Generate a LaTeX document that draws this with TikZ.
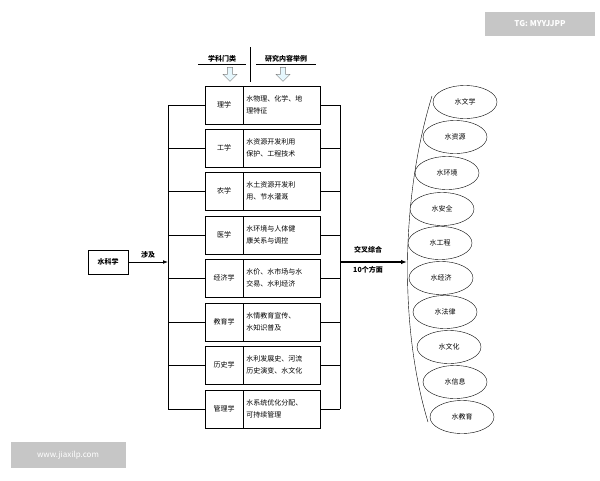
\documentclass[tikz,border=0pt]{standalone}
\usepackage{fontspec}
\setmainfont{Noto Sans CJK SC}
\usetikzlibrary{shapes.geometric,arrows.meta,shapes.arrows}
\begin{document}
\begin{tikzpicture}[x=1pt,y=-1pt,
 box/.style={draw,thick,minimum height=38pt,inner sep=2pt,font=\fontsize{7}{12}\selectfont},
 lbox/.style={box,minimum width=38pt},
 rbox/.style={box,minimum width=77pt,text width=72pt,align=left},
 ell/.style={ellipse,draw,minimum width=64pt,minimum height=33pt,fill=white,font=\fontsize{7}{8}\selectfont},
 conn/.style={thick},
 hdr/.style={font=\bfseries\fontsize{7}{8}\selectfont},
 darr/.style={single arrow,shape border rotate=270,draw=gray,fill=cyan!10,minimum height=14pt,minimum width=14pt,single arrow head extend=2pt,inner sep=1pt}]
\useasboundingbox (0,0) rectangle (600,480);
\fill[white] (0,0) rectangle (600,480);
% watermarks
\node[fill=gray!45,text=white,font=\bfseries\fontsize{8}{10}\selectfont,minimum width=110pt,minimum height=24pt] (wm1) at (540,24) {TG: MYYJJPP};
\node[fill=gray!45,text=white,font=\fontsize{8}{10}\selectfont,minimum width=115pt,minimum height=26pt] (wm2) at (68,455) {www.jiaxilp.com};
% header
\node[hdr] (h1) at (222,59) {学科门类};
\node[hdr] (h2) at (286,59) {研究内容举例};
\draw (250,47) coordinate (dv1) -- (250,82) coordinate (dv2);
\draw (198,64) coordinate (u1) -- (246,64) coordinate (u2);
\draw (256,64) coordinate (u3) -- (316,64) coordinate (u4);
\node[darr] (a1) at (230,73) {};
\node[darr] (a2) at (283,73) {};
% rows
\foreach \i/\y/\a/\b in {1/105/理学/{水物理、化学、地\\理特征},
 2/148/工学/{水资源开发利用\\保护、工程技术},
 3/191/农学/{水土资源开发利\\用、节水灌溉},
 4/235/医学/{水环境与人体健\\康关系与调控},
 5/278/经济学/{水价、水市场与水\\交易、水利经济},
 6/322/教育学/{水情教育宣传、\\水知识普及},
 7/365/历史学/{水利发展史、河流\\历史演变、水文化},
 8/409/管理学/{水系统优化分配、\\可持续管理}}{
 \node[lbox] (L\i) at (224,\y) {\a};
 \node[rbox,anchor=west] (R\i) at (L\i.east) {\b};
 \draw[conn] (168,\y) coordinate (bl\i) -- (L\i.west);
 \draw[conn] (R\i.east) -- (340,\y) coordinate (br\i);
}
\draw[conn] (bl1) -- (bl8);
\draw[conn] (br1) -- (br8);
% left
\node[draw,thick,minimum width=40pt,minimum height=24pt,font=\bfseries\fontsize{7}{8}\selectfont] (ws) at (108,262) {水科学};
\coordinate (lj) at (168,262);
\draw[thick,-{Latex[length=5pt]}] (ws.east) -- node[above,hdr] {涉及} (lj);
% right
\coordinate (rj) at (340,262);
\coordinate (tip) at (407,262);
\draw[very thick,-{Latex[length=6pt]}] (rj) -- (tip);
\node[hdr] (t1) at (368,250) {交叉综合};
\node[hdr] (t2) at (368,270) {10个方面};
\draw (432,96) coordinate (ct) .. controls (400,200) and (400,330) .. (428,422) coordinate (cb);
\foreach \i/\x/\y/\t in {1/465/102/水文学,2/455/137/水资源,3/447/173/水环境,4/442/209/水安全,5/440/243/水工程,6/441/278/水经济,7/445/312/水法律,8/449/347/水文化,9/455/382/水信息,10/462/417/水教育}{
 \node[ell] (E\i) at (\x,\y) {\t};
}
\end{tikzpicture}
\end{document}
